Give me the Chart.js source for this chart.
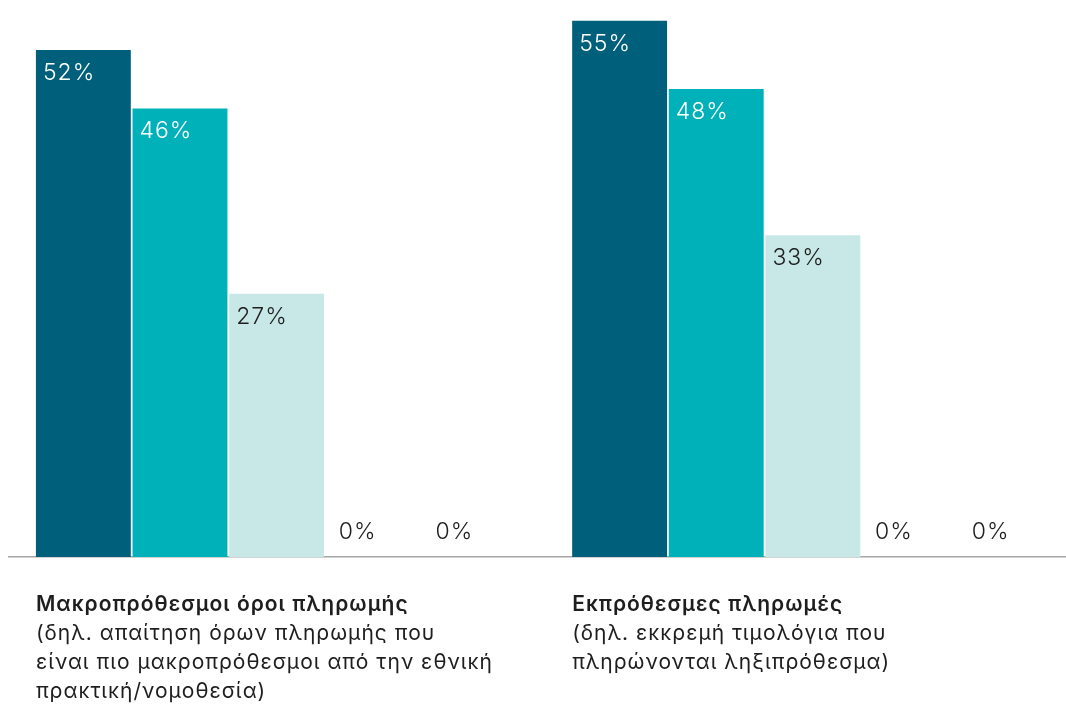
<!DOCTYPE html>
<html>
<head>
<meta charset="utf-8">
<script src="https://cdn.jsdelivr.net/npm/chart.js@4"></script>
<style>
  html, body { margin: 0; padding: 0; background: #fff; overflow: hidden; width: 1066px; height: 706px; }
  canvas { display: block; }
</style>
</head>
<body>
<canvas id="chart" width="1081" height="706"></canvas>
<script>
const CATEGORY_TITLES = ["Μακροπρόθεσμοι όροι πληρωμής", "Εκπρόθεσμες πληρωμές"];
const CATEGORY_NOTES = [
  ["(δηλ. απαίτηση όρων πληρωμής που", "είναι πιο μακροπρόθεσμοι από την εθνική", "πρακτική/νομοθεσία)"],
  ["(δηλ. εκκρεμή τιμολόγια που", "πληρώνονται ληξιπρόθεσμα)"],
];
const SERIES_NAMES = ["Σειρά 1", "Σειρά 2", "Σειρά 3", "Σειρά 4", "Σειρά 5"];
const SERIES_1 = [52, 55];
const SERIES_2 = [46, 48];
const SERIES_3 = [27, 33];
const SERIES_4 = [0, 0];
const SERIES_5 = [0, 0];

const PALETTE = {
  ink: "#1e1e1e",
  axis: "#a6a6a6",
  bars: ["#005f7b", "#00b1b9", "#c8e8e8", "#7fc6cf", "#9aa5ab"],
  labelInk: ["#ffffff", "#ffffff", "#1e1e1e", "#1e1e1e", "#1e1e1e"],
};
const FONT = "Inter, 'Noto Sans', sans-serif";

const valueLabels = {
  id: "valueLabels",
  afterDatasetsDraw(chart) {
    const { ctx } = chart;
    ctx.save();
    ctx.font = `300 23px ${FONT}`;
    ctx.letterSpacing = "1px";
    ctx.textAlign = "left";
    ctx.textBaseline = "middle";
    chart.data.datasets.forEach((ds, di) => {
      chart.getDatasetMeta(di).data.forEach((bar, i) => {
        const v = ds.data[i];
        const left = bar.x - bar.width / 2;
        // empty bars: label sits just above the baseline
        const x = v === 0 ? left + 13 : left + 7;
        const y = v === 0 ? bar.base - 25 : bar.y + 23;
        ctx.fillStyle = v === 0 ? PALETTE.ink : PALETTE.labelInk[di];
        ctx.fillText(`${v}%`, x, y);
      });
    });
    ctx.restore();
  },
};

const categoryLabels = {
  id: "categoryLabels",
  afterDraw(chart) {
    const { ctx } = chart;
    const first = chart.getDatasetMeta(0).data;
    ctx.save();
    ctx.fillStyle = PALETTE.ink;
    ctx.textAlign = "left";
    ctx.textBaseline = "middle";
    ctx.letterSpacing = "1px";
    CATEGORY_TITLES.forEach((title, i) => {
      const x = first[i].x - first[i].width / 2;
      let y = chart.chartArea.bottom + 48;
      ctx.font = `600 21px ${FONT}`;
      ctx.fillText(title, x, y);
      ctx.font = `400 21px ${FONT}`;
      for (const line of CATEGORY_NOTES[i]) {
        y += 29;
        ctx.fillText(line, x, y);
      }
    });
    ctx.restore();
  },
};

const seriesData = [SERIES_1, SERIES_2, SERIES_3, SERIES_4, SERIES_5];

new Chart(document.getElementById("chart"), {
  type: "bar",
  data: {
    labels: CATEGORY_TITLES,
    datasets: seriesData.map((data, i) => ({
      label: SERIES_NAMES[i],
      data,
      backgroundColor: PALETTE.bars[i],
      borderWidth: 0,
      categoryPercentage: 0.901,
      barPercentage: 0.982,
    })),
  },
  options: {
    responsive: false,
    animation: false,
    layout: { padding: { left: 8.5, right: 0, top: 11, bottom: 141 } },
    plugins: { legend: { display: false }, tooltip: { enabled: false } },
    scales: {
      x: {
        grid: { display: false },
        ticks: { display: false },
        border: { display: true, color: PALETTE.axis, width: 1.5 },
      },
      y: {
        display: false,
        min: 0,
        max: 56,
      },
    },
  },
  plugins: [valueLabels, categoryLabels],
});
</script>
</body>
</html>
